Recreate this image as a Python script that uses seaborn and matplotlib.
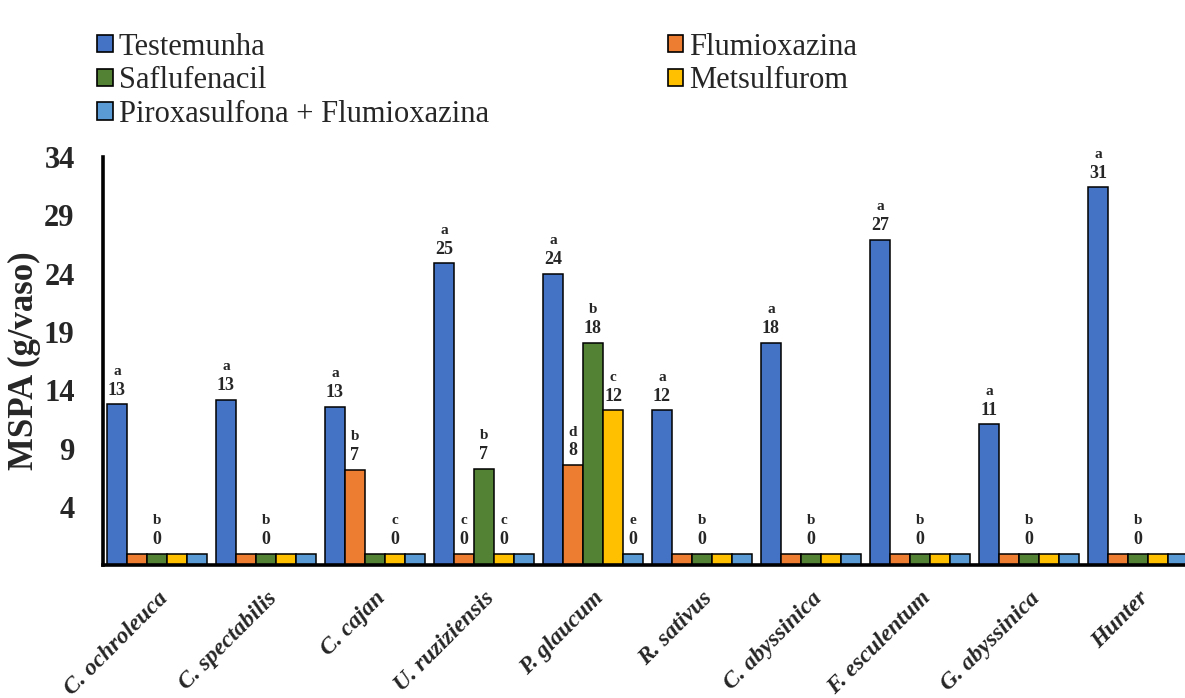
import matplotlib
matplotlib.use("Agg")
import matplotlib.pyplot as plt
import seaborn as sns
import pandas as pd

# Species / cultivars on the x axis
categories = ["C. ochroleuca", "C. spectabilis", "C. cajan", "U. ruziziensis",
              "P. glaucum", "R. sativus", "C. abyssinica", "F. esculentum",
              "G. abyssinica", "Hunter"]

treatments = ["Testemunha", "Flumioxazina", "Saflufenacil", "Metsulfurom",
              "Piroxasulfona + Flumioxazina"]

# Shoot dry mass (g/vaso) per treatment
testemunha = [12.8, 13.2, 12.6, 24.9, 24.0, 12.3, 18.1, 26.9, 11.1, 31.4]
flumioxazina = [0, 0, 7.2, 0, 7.6, 0, 0, 0, 0, 0]
saflufenacil = [0, 0, 0, 7.3, 18.1, 0, 0, 0, 0, 0]
metsulfurom = [0, 0, 0, 0, 12.3, 0, 0, 0, 0, 0]
piroxa_flumi = [0, 0, 0, 0, 0, 0, 0, 0, 0, 0]

# Mean-separation letters ('' = no label on that bar)
letters_testemunha = ["a"] * 10
letters_flumioxazina = ["", "", "b", "c", "d", "", "", "", "", ""]
letters_saflufenacil = ["b", "b", "", "b", "b", "b", "b", "b", "b", "b"]
letters_metsulfurom = ["", "", "c", "c", "c", "", "", "", "", ""]
letters_piroxa_flumi = ["", "", "", "", "e", "", "", "", "", ""]

y_ticks = [4, 9, 14, 19, 24, 29, 34]

colors = ["#4472C4", "#ED7D31", "#548235", "#FFC000", "#5B9BD5"]

series = [testemunha, flumioxazina, saflufenacil, metsulfurom, piroxa_flumi]
letters = [letters_testemunha, letters_flumioxazina, letters_saflufenacil,
           letters_metsulfurom, letters_piroxa_flumi]

rows = []
for t, vals in zip(treatments, series):
    for c, v in zip(categories, vals):
        rows.append({"categoria": c, "tratamento": t, "MSPA": v})
df = pd.DataFrame(rows)

sns.set_style("white")
plt.rcParams["font.family"] = ["Liberation Serif", "DejaVu Serif"]

fig = plt.figure(figsize=(11.85, 6.98), dpi=100)
ax = fig.add_axes([0.0865, 0.19, 0.9198, 0.5851])

sns.barplot(data=df, x="categoria", y="MSPA", hue="tratamento",
            order=categories, hue_order=treatments, palette=colors,
            width=0.92, gap=0, edgecolor="black", linewidth=1.1,
            errorbar=None, saturation=1, ax=ax)

ymin = -1
# bars rise from the axis floor so zero values still show a stub
for cont in ax.containers:
    for p in cont:
        h = p.get_height()
        p.set_y(ymin)
        p.set_height(h - ymin)

# value and letter labels
for cont, vals, lets in zip(ax.containers, series, letters):
    for p, v, l in zip(cont, vals, lets):
        if not l:
            continue
        xc = p.get_x() + p.get_width() / 2
        ax.annotate(f"{v:.0f}", (xc, v), xytext=(0, 4), textcoords="offset points",
                    ha="center", va="bottom", fontsize=13, fontweight="bold")
        ax.annotate(l, (xc, v), xytext=(0, 19), textcoords="offset points",
                    ha="center", va="bottom", fontsize=11, fontweight="bold")

ax.set_ylim(ymin, 34)
ax.set_xlim(-0.5, 9.5)
ax.set_yticks(y_ticks)
ax.set_yticklabels([str(t) for t in y_ticks], fontsize=22, fontweight="bold")
ax.tick_params(axis="y", length=0, pad=20)
ax.tick_params(axis="x", length=0, pad=16)
ax.set_xticks(range(len(categories)))
ax.set_xticklabels(categories, rotation=45, ha="right", rotation_mode="anchor",
                   fontsize=17, fontweight="bold", fontstyle="italic")
ax.set_xlabel("")
ax.set_ylabel("MSPA (g/vaso)", fontsize=25, fontweight="bold")
ax.yaxis.set_label_coords(-0.056, 0.5)

for side in ["top", "right"]:
    ax.spines[side].set_visible(False)
for side in ["left", "bottom"]:
    ax.spines[side].set_linewidth(2.6)
    ax.spines[side].set_color("black")
ax.grid(False)

handles, labels = ax.get_legend_handles_labels()
ax.get_legend().remove()
for h in handles:
    h.set_edgecolor("black")
    h.set_linewidth(1.2)
order = [0, 2, 4, 1, 3]
fig.legend([handles[i] for i in order], [labels[i] for i in order],
           ncol=2, loc="upper left", bbox_to_anchor=(0.077, 0.962),
           frameon=False, fontsize=22, handlelength=0.5, handleheight=0.5,
           handletextpad=0.2, labelspacing=0.15, columnspacing=5.85,
           borderaxespad=0, borderpad=0.2)

fig.savefig("out.png", dpi=100)
